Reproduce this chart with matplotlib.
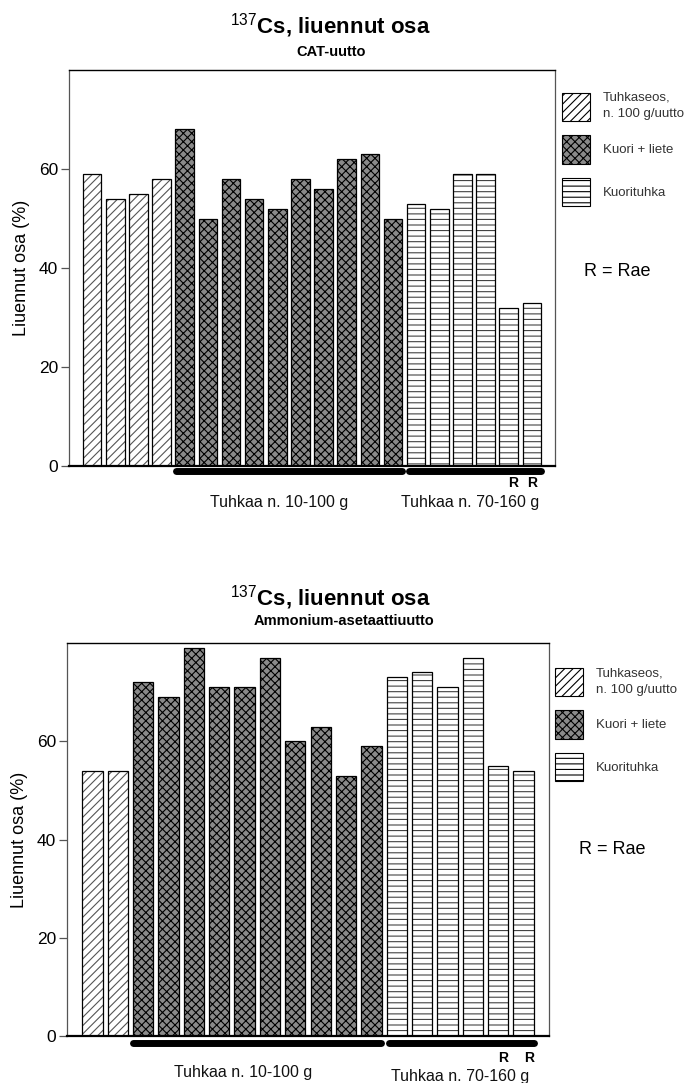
import numpy as np
import matplotlib
matplotlib.use('Agg')
import matplotlib.pyplot as plt
import matplotlib.transforms as mtransforms
from matplotlib.patches import Patch

plt.rcParams['font.family'] = ['Liberation Sans', 'DejaVu Sans']
plt.rcParams['mathtext.fontset'] = 'custom'
plt.rcParams['mathtext.rm'] = 'Liberation Sans'
plt.rcParams['mathtext.bf'] = 'Liberation Sans:bold'
plt.rcParams['hatch.linewidth'] = 0.8

# CAT-uutto
cat_tuhkaseos = [59, 54, 55, 58]
cat_kuori = [68, 50, 58, 54, 52, 58, 56, 62, 63, 50]
cat_kuorituhka = [53, 52, 59, 59, 32, 33]

# Ammonium-asetaattiuutto
amm_tuhkaseos = [54, 54]
amm_kuori = [72, 69, 79, 71, 71, 77, 60, 63, 53, 59]
amm_kuorituhka = [73, 74, 71, 77, 55, 54]

legend_labels = ['Tuhkaseos,\nn. 100 g/uutto', 'Kuori + liete', 'Kuorituhka']
group_labels = ['Tuhkaa n. 10-100 g', 'Tuhkaa n. 70-160 g']
yticks = [0, 20, 40, 60]

# hatch, face, hatch colour per type
STYLES = [
    ('////', 'white', '#555555'),
    ('xxxx', '#8a8a8a', 'black'),
    ('---', 'white', '#444444'),
]

W, H = 692, 1083


def draw_panel(ax, series, rae_x, group_x, lab_y, line_y, rae_y):
    start = 0
    for vals, (hatch, face, hcol) in zip(series, STYLES):
        x = np.arange(start, start + len(vals))
        ax.bar(x, vals, width=0.8, color=face, edgecolor=hcol, hatch=hatch, linewidth=0)
        ax.bar(x, vals, width=0.8, fill=False, edgecolor='black', linewidth=0.9)
        start += len(vals)
    n = start
    ax.set_xlim(-1, n)
    ax.set_ylim(0, 80)
    ax.set_xticks([])
    ax.set_yticks(yticks)
    ax.tick_params(axis='y', direction='out', length=6, width=0.9, color='#555555', labelsize=12.5, pad=2)
    ax.set_ylabel('Liuennut osa (%)', fontsize=13, labelpad=6)
    for s in ['left', 'right']:
        ax.spines[s].set_color('#555555')
        ax.spines[s].set_linewidth(0.9)
    ax.spines['top'].set_linewidth(1.0)
    ax.spines['bottom'].set_linewidth(1.6)

    trans = mtransforms.blended_transform_factory(ax.transData, ax.transAxes)
    # black group bars under the axis
    k0 = len(series[0])
    k1 = k0 + len(series[1])
    for a, b in [(k0 - 0.38, k1 - 0.62), (k1 - 0.3, n - 0.6)]:
        ax.plot([a, b], [line_y, line_y], color='black', lw=5, solid_capstyle='round',
                transform=trans, clip_on=False)
    for gx, gl, gy in zip(group_x, group_labels, lab_y):
        ax.text(gx, gy, gl, transform=trans, ha='center', va='center', fontsize=11.5, color='#111111')
    for rx in rae_x:
        ax.text(rx, rae_y, 'R', transform=trans, ha='center', va='center', fontsize=10,
                fontweight='bold')


def add_legend(fig, anchor):
    handles = [Patch(facecolor=face, edgecolor='black', hatch=hatch, linewidth=0.8)
               for hatch, face, hcol in STYLES]
    leg = fig.legend(handles, legend_labels, loc='upper left', bbox_to_anchor=anchor,
                     frameon=False, fontsize=9.5, handlelength=2.1, handleheight=2.9,
                     handletextpad=1.0, labelspacing=1.1, borderpad=0, borderaxespad=0,
                     labelcolor='#333333')
    leg.get_texts()[0].set_linespacing(1.5)
    return leg


def main():
    fig = plt.figure(figsize=(W / 100, H / 100), dpi=100)

    ax1 = fig.add_axes([69 / W, 1 - 466 / H, 486 / W, 396 / H])
    draw_panel(ax1, [cat_tuhkaseos, cat_kuori, cat_kuorituhka],
               rae_x=[18.2, 19.0], group_x=[8.1, 16.35], lab_y=[-0.093, -0.093],
               line_y=-0.013, rae_y=-0.043)
    fig.text(330 / W, 1 - 26 / H, r'$^{137}$Cs, liuennut osa', ha='center', va='center',
             fontsize=16, fontweight='bold')
    fig.text(331 / W, 1 - 52 / H, 'CAT-uutto', ha='center', va='center',
             fontsize=10.5, fontweight='bold')
    add_legend(fig, (562 / W, 1 - 92 / H))
    fig.text(617 / W, 1 - 272 / H, 'R = Rae', ha='center', va='center', fontsize=13)

    ax2 = fig.add_axes([67 / W, 1 - 1036 / H, 482 / W, 393 / H])
    draw_panel(ax2, [amm_tuhkaseos, amm_kuori, amm_kuorituhka],
               rae_x=[16.2, 17.2], group_x=[5.93, 14.5], lab_y=[-0.094, -0.102],
               line_y=-0.018, rae_y=-0.056)
    fig.text(330 / W, 1 - 598 / H, r'$^{137}$Cs, liuennut osa', ha='center', va='center',
             fontsize=16, fontweight='bold')
    fig.text(344 / W, 1 - 621 / H, 'Ammonium-asetaattiuutto', ha='center', va='center',
             fontsize=10.5, fontweight='bold')
    add_legend(fig, (555 / W, 1 - 667 / H))
    fig.text(612 / W, 1 - 850 / H, 'R = Rae', ha='center', va='center', fontsize=13)

    fig.savefig('out.png', dpi=100)


if __name__ == '__main__':
    main()
